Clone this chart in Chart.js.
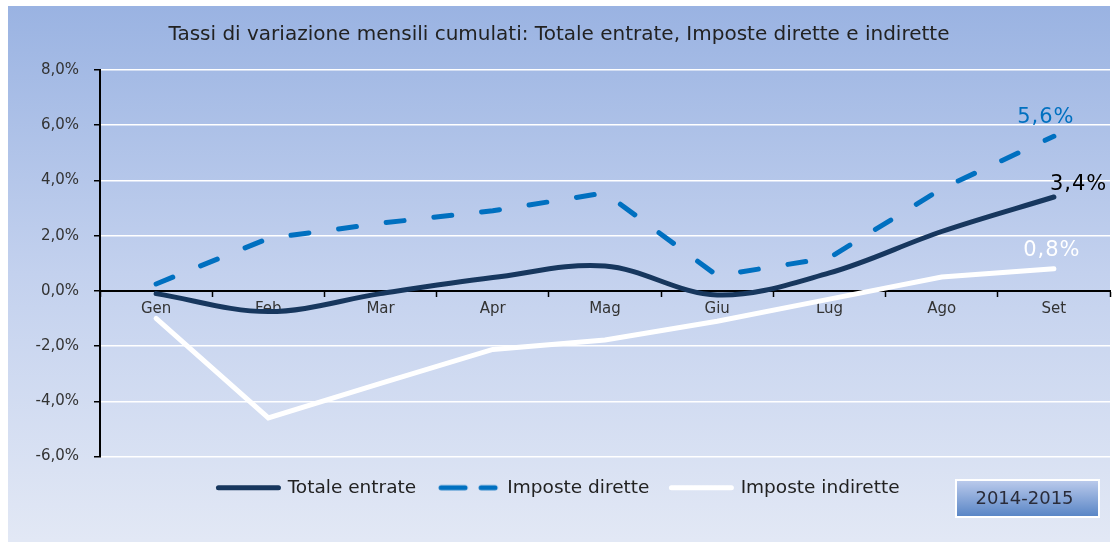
<!DOCTYPE html>
<html lang="it">
<head>
  <meta charset="UTF-8" />
  <title>Tassi di variazione mensili cumulati</title>
  <script src="https://cdn.jsdelivr.net/npm/chart.js"></script>
  <style>
    body { margin: 0; background: #fff; }
    #wrap { width: 1114px; height: 544px; }
  </style>
</head>
<body>
  <div id="wrap"><canvas id="chart" width="1114" height="544"></canvas></div>
  <script>
    // Data (values in %)
    const months = ['Gen', 'Feb', 'Mar', 'Apr', 'Mag', 'Giu', 'Lug', 'Ago', 'Set'];
    const totaleEntrate = [-0.1, -0.75, -0.1, 0.48, 0.9, -0.15, 0.65, 2.15, 3.4];
    const imposteDirette = [0.25, 1.9, 2.45, 2.9, 3.55, 0.55, 1.2, 3.7, 5.6];
    const imposteIndirette = [-1.0, -4.6, -3.35, -2.12, -1.78, -1.1, -0.3, 0.5, 0.8];
    const yTicks = { min: -6, max: 8, step: 2 };
    const periodo = '2014-2015';

    const fmt = v => v.toFixed(1).replace('.', ',') + '%';
    const FONT = "'DejaVu Sans', sans-serif";

    // dashed sample for the legend (Chart.js skips lineDash for point styles)
    const dashSample = document.createElement('canvas');
    dashSample.width = 62;
    dashSample.height = 8;
    (function () {
      const c = dashSample.getContext('2d');
      c.strokeStyle = '#0070c0';
      c.lineWidth = 5;
      c.lineCap = 'round';
      c.beginPath();
      c.moveTo(4, 4); c.lineTo(28, 4);
      c.moveTo(44, 4); c.lineTo(58, 4);
      c.stroke();
    })();

    // gradient background of the whole picture
    const background = {
      id: 'background',
      beforeDraw(chart) {
        const { ctx, width, height } = chart;
        ctx.save();
        ctx.fillStyle = '#fff';
        ctx.fillRect(0, 0, width, height);
        const g = ctx.createLinearGradient(0, 6, 0, 540);
        g.addColorStop(0, '#9ab3e2');
        g.addColorStop(0.5, '#c3d1ee');
        g.addColorStop(1, '#e2e8f5');
        ctx.fillStyle = g;
        ctx.fillRect(8, 6, 1102, 536);
        ctx.restore();
      }
    };

    // value labels on the last point + period box
    const extras = {
      id: 'extras',
      afterDraw(chart) {
        const { ctx } = chart;
        ctx.save();
        ctx.font = '21px ' + FONT;
        if ('letterSpacing' in ctx) ctx.letterSpacing = '1px';
        ctx.textBaseline = 'bottom';
        const last = months.length - 1;
        const place = [
          { ds: 1, color: '#0070c0', dx: -8, dy: -8, align: 'center' },
          { ds: 0, color: '#000000', dx: -4, dy: -2, align: 'left' },
          { ds: 2, color: '#ffffff', dx: -2, dy: -8, align: 'center' }
        ];
        place.forEach(p => {
          const pt = chart.getDatasetMeta(p.ds).data[last];
          const v = chart.data.datasets[p.ds].data[last];
          ctx.fillStyle = p.color;
          ctx.textAlign = p.align;
          ctx.fillText(fmt(v), pt.x + p.dx, pt.y + p.dy);
        });
        if ('letterSpacing' in ctx) ctx.letterSpacing = '0px';

        // period box
        const bx = 956, by = 480, bw = 143, bh = 37;
        const g = ctx.createLinearGradient(0, by, 0, by + bh);
        g.addColorStop(0, '#bccbec');
        g.addColorStop(1, '#5784c5');
        ctx.fillStyle = g;
        ctx.fillRect(bx, by, bw, bh);
        ctx.strokeStyle = '#ffffff';
        ctx.lineWidth = 2;
        ctx.strokeRect(bx, by, bw, bh);
        ctx.fillStyle = '#2a2c3a';
        ctx.font = '18px ' + FONT;
        ctx.textAlign = 'center';
        ctx.textBaseline = 'middle';
        ctx.fillText(periodo, bx + bw / 2 - 3, by + bh / 2 + 1);
        ctx.restore();
      }
    };

    new Chart(document.getElementById('chart'), {
      type: 'line',
      data: {
        labels: months,
        datasets: [
          {
            label: 'Totale entrate',
            data: totaleEntrate,
            borderColor: '#17375e',
            backgroundColor: '#17375e',
            borderWidth: 5,
            tension: 0.35,
            borderCapStyle: 'round',
            pointRadius: 0
          },
          {
            label: 'Imposte dirette',
            data: imposteDirette,
            borderColor: '#0070c0',
            backgroundColor: '#0070c0',
            borderWidth: 5,
            borderDash: [18, 30],
            borderCapStyle: 'round',
            tension: 0,
            pointRadius: 0
          },
          {
            label: 'Imposte indirette',
            data: imposteIndirette,
            borderColor: '#ffffff',
            backgroundColor: '#ffffff',
            borderWidth: 5,
            borderCapStyle: 'round',
            tension: 0,
            pointRadius: 0
          }
        ]
      },
      options: {
        responsive: false,
        animation: false,
        layout: { padding: { left: 8, right: 4, top: 0, bottom: 37 } },
        plugins: {
          title: {
            display: true,
            text: 'Tassi di variazione mensili cumulati: Totale entrate, Imposte dirette e indirette',
            color: '#222222',
            font: { family: FONT, size: 20, weight: 'normal' },
            padding: { top: 23, bottom: 23 }
          },
          legend: {
            position: 'bottom',
            labels: {
              color: '#222222',
              font: { family: FONT, size: 18.5 },
              usePointStyle: true,
              pointStyleWidth: 60,
              padding: 22,
              generateLabels(chart) {
                return Chart.defaults.plugins.legend.labels.generateLabels(chart).map((l, i) => {
                  l.pointStyle = i === 1 ? dashSample : 'line';
                  l.lineWidth = 5;
                  l.lineCap = 'round';
                  return l;
                });
              }
            }
          },
          tooltip: { enabled: false }
        },
        scales: {
          x: {
            position: { y: 0 },
            offset: true,
            grid: {
              offset: true,
              drawOnChartArea: false,
              drawTicks: true,
              tickLength: 5,
              tickColor: '#000000',
              tickWidth: 1.5
            },
            border: { color: '#000000', width: 2 },
            ticks: { color: '#333333', font: { family: FONT, size: 15 }, padding: 4 }
          },
          y: {
            min: yTicks.min,
            max: yTicks.max,
            afterFit: s => { s.width = 92; },
            grid: {
              color: '#ffffff',
              lineWidth: 1.5,
              tickColor: '#000000',
              tickLength: 6
            },
            border: { color: '#000000', width: 2 },
            ticks: {
              stepSize: yTicks.step,
              color: '#333333',
              font: { family: FONT, size: 15 },
              padding: 15,
              callback: v => fmt(v)
            }
          }
        }
      },
      plugins: [background, extras]
    });
  </script>
</body>
</html>
